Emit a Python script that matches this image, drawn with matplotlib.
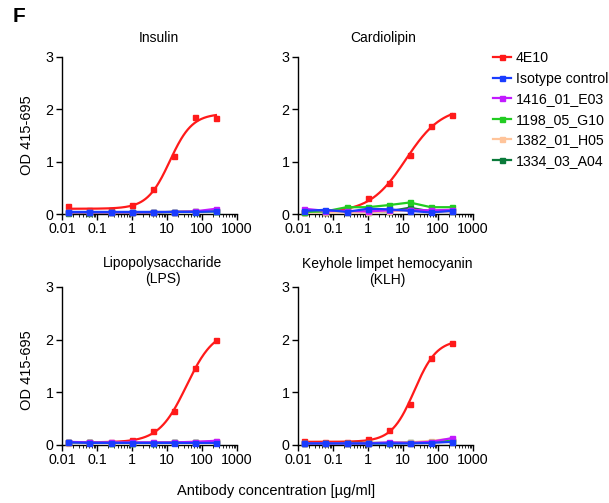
import numpy as np
import matplotlib
matplotlib.use("Agg")
import matplotlib.pyplot as plt
from matplotlib.lines import Line2D
from matplotlib.ticker import LogLocator, FixedLocator, NullFormatter

plt.rcParams['font.family'] = ['Liberation Sans', 'DejaVu Sans']

# ---------------- data ----------------
conc = [0.0153, 0.061, 0.244, 0.977, 3.906, 15.625, 62.5, 250.0]

series_names = ["4E10", "Isotype control", "1416_01_E03", "1198_05_G10",
                "1382_01_H05", "1334_03_A04"]
series_colors = ["#ff1a1a", "#1a3cff", "#c21aff", "#22cc22", "#ffc49a", "#0a7a3a"]

panel_titles = ["Insulin", "Cardiolipin", "Lipopolysaccharide\n(LPS)",
                "Keyhole limpet hemocyanin\n(KLH)"]

# Insulin
ins_4e10 = [0.16, 0.07, 0.08, 0.18, 0.47, 1.11, 1.86, 1.84]
ins_iso = [0.04, 0.04, 0.04, 0.04, 0.04, 0.04, 0.04, 0.05]
ins_1416 = [0.03, 0.03, 0.03, 0.03, 0.03, 0.04, 0.05, 0.10]
ins_1198 = [0.03, 0.03, 0.03, 0.03, 0.03, 0.04, 0.04, 0.05]
ins_1382 = [0.03, 0.03, 0.03, 0.03, 0.04, 0.04, 0.05, 0.07]
ins_1334 = [0.02, 0.02, 0.03, 0.03, 0.03, 0.04, 0.05, 0.06]

# Cardiolipin
car_4e10 = [0.04, 0.03, 0.10, 0.30, 0.60, 1.12, 1.68, 1.90]
car_iso = [0.06, 0.08, 0.04, 0.10, 0.09, 0.06, 0.03, 0.06]
car_1416 = [0.10, 0.06, 0.06, 0.05, 0.07, 0.08, 0.07, 0.08]
car_1198 = [0.04, 0.05, 0.13, 0.13, 0.17, 0.22, 0.13, 0.13]
car_1382 = [0.03, 0.03, 0.03, 0.03, 0.05, 0.07, 0.05, 0.05]
car_1334 = [0.04, 0.04, 0.04, 0.04, 0.05, 0.12, 0.05, 0.06]

# LPS
lps_4e10 = [0.05, 0.05, 0.06, 0.10, 0.27, 0.64, 1.47, 2.00]
lps_iso = [0.05, 0.04, 0.04, 0.04, 0.04, 0.04, 0.04, 0.04]
lps_1416 = [0.06, 0.05, 0.05, 0.05, 0.05, 0.05, 0.06, 0.08]
lps_1198 = [0.05, 0.05, 0.04, 0.04, 0.04, 0.05, 0.05, 0.06]
lps_1382 = [0.04, 0.04, 0.04, 0.04, 0.05, 0.05, 0.06, 0.07]
lps_1334 = [0.05, 0.05, 0.04, 0.04, 0.04, 0.05, 0.05, 0.06]

# KLH
klh_4e10 = [0.08, 0.05, 0.06, 0.12, 0.29, 0.77, 1.65, 1.94]
klh_iso = [0.03, 0.03, 0.03, 0.03, 0.03, 0.03, 0.04, 0.06]
klh_1416 = [0.03, 0.03, 0.03, 0.03, 0.05, 0.04, 0.06, 0.13]
klh_1198 = [0.03, 0.03, 0.03, 0.03, 0.03, 0.04, 0.05, 0.08]
klh_1382 = [0.03, 0.03, 0.03, 0.04, 0.04, 0.05, 0.08, 0.12]
klh_1334 = [0.03, 0.03, 0.04, 0.04, 0.04, 0.05, 0.06, 0.08]

# 4PL fit parameters for 4E10 curves: bottom, top, EC50, hill
fit_ins = (0.10, 1.92, 12.0, 1.35)
fit_car = (0.03, 2.05, 12.0, 0.85)
fit_lps = (0.05, 2.20, 36.0, 1.10)
fit_klh = (0.06, 2.00, 21.0, 1.35)

panels = [
    ([ins_4e10, ins_iso, ins_1416, ins_1198, ins_1382, ins_1334], fit_ins),
    ([car_4e10, car_iso, car_1416, car_1198, car_1382, car_1334], fit_car),
    ([lps_4e10, lps_iso, lps_1416, lps_1198, lps_1382, lps_1334], fit_lps),
    ([klh_4e10, klh_iso, klh_1416, klh_1198, klh_1382, klh_1334], fit_klh),
]

xticks = [0.01, 0.1, 1, 10, 100, 1000]
xticklabels = ["0.01", "0.1", "1", "10", "100", "1000"]
yticks = [0, 1, 2, 3]


def four_pl(x, p):
    b, t, ec, h = p
    return b + (t - b) / (1 + (ec / x) ** h)


W, H = 609, 503
fig = plt.figure(figsize=(W / 100, H / 100), dpi=100)

# axes rectangles in pixel coords (left, top, right, bottom)
rects = [(62, 57, 237, 214), (298, 57, 473, 214),
         (62, 287, 237, 445), (298, 287, 473, 445)]
title_pos = [(159, 38), (383, 38), (163, 271), (387, 272)]

draw_order = [0, 5, 4, 3, 2, 1]
for i, ((vals, fitp), (l, t, r, b)) in enumerate(zip(panels, rects)):
    ax = fig.add_axes([l / W, (H - b) / H, (r - l) / W, (b - t) / H])
    for z, k in enumerate(draw_order):
        c = series_colors[k]
        if k == 0:
            xs = np.logspace(np.log10(conc[0]), np.log10(conc[-1]), 200)
            ax.plot(xs, four_pl(xs, fitp), color=c, lw=1.6, zorder=2 + z, clip_on=False)
            ax.plot(conc, vals[k], ls='none', marker='s', ms=3.6, color=c,
                    zorder=2 + z, clip_on=False)
        else:
            ax.plot(conc, vals[k], color=c, lw=1.6, marker='s', ms=3.6,
                    zorder=2 + z, clip_on=False)
    ax.set_xscale('log')
    ax.set_xlim(0.01, 1000)
    ax.set_ylim(0, 3)
    ax.xaxis.set_major_locator(FixedLocator(xticks))
    ax.set_xticklabels(xticklabels)
    ax.xaxis.set_minor_locator(LogLocator(base=10, subs=np.arange(2, 10), numticks=20))
    ax.xaxis.set_minor_formatter(NullFormatter())
    ax.set_yticks(yticks)
    ax.set_yticklabels([str(v) for v in yticks])
    for s in ['top', 'right']:
        ax.spines[s].set_visible(False)
    for s in ['left', 'bottom']:
        ax.spines[s].set_linewidth(1.0)
    ax.tick_params(axis='both', which='major', labelsize=10.3, length=4, width=1,
                   pad=2, colors='black')
    ax.tick_params(axis='x', which='minor', length=2, width=0.6)
    ax.patch.set_alpha(0)
    tx, ty = title_pos[i]
    fig.text(tx / W, 1 - ty / H, panel_titles[i], ha='center', va='center',
             fontsize=10, linespacing=1.2)

# y labels
for yc in (135, 370):
    fig.text(27 / W, 1 - yc / H, "OD 415-695", rotation=90, ha='center',
             va='center', fontsize=10.5)

# x label
fig.text(276 / W, 1 - 491 / H, "Antibody concentration [µg/ml]", ha='center',
         va='center', fontsize=10.5)

# panel letter
fig.text(19 / W, 1 - 17 / H, "F", ha='center', va='center', fontsize=15,
         fontweight='bold')

# legend
handles = [Line2D([0], [0], color=c, lw=1.6, marker='s', ms=3.6)
           for c in series_colors]
fig.legend(handles, series_names, loc='upper left',
           bbox_to_anchor=(493 / W, 1 - 51 / H), frameon=False, fontsize=10.2,
           handlelength=1.3, handletextpad=0.3, labelspacing=0.46,
           borderaxespad=0, borderpad=0, numpoints=1)

fig.savefig("out.png", dpi=100)
